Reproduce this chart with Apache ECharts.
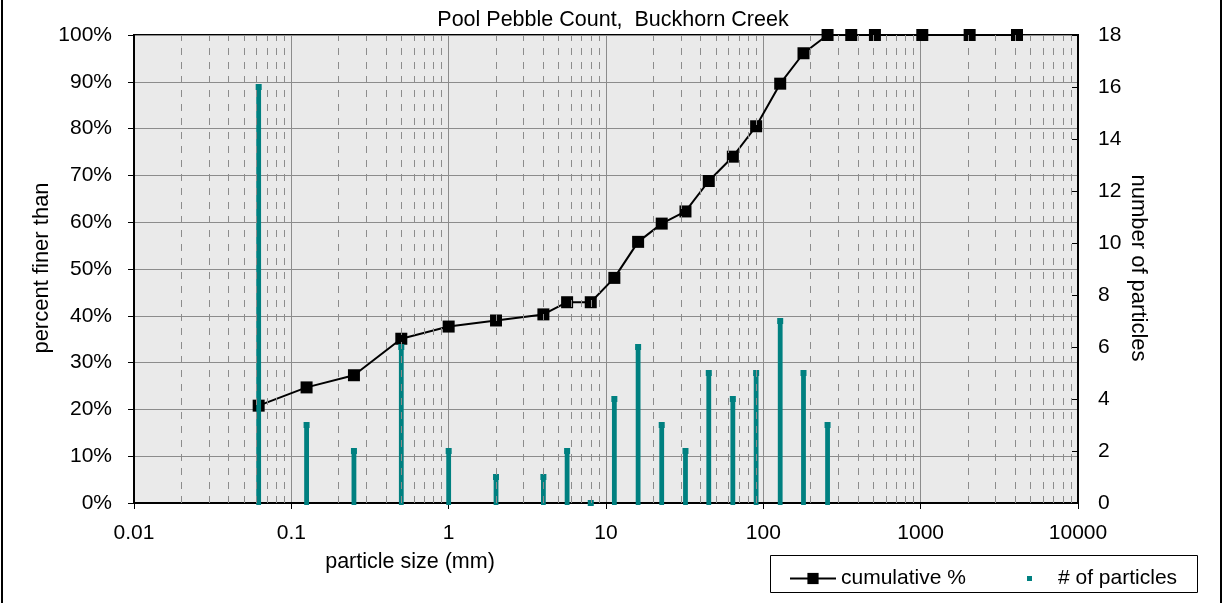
<!DOCTYPE html>
<html>
<head>
<meta charset="utf-8">
<script src="https://cdn.jsdelivr.net/npm/echarts@6/dist/echarts.min.js"></script>
<style>
html,body{margin:0;padding:0;background:#fff;}
#chart{width:1226px;height:603px;}
</style>
</head>
<body>
<div id="chart"></div>
<script>
// ---- data ----
const sieveSizes = [0.062, 0.125, 0.25, 0.5, 1, 2, 4, 5.66, 8, 11.3, 16, 22.6, 32, 45, 64, 90, 128, 180, 256, 362, 512, 1024, 2048, 4096];
const cumulativePct = [20.8, 24.7, 27.3, 35.1, 37.7, 39.0, 40.3, 42.9, 42.9, 48.1, 55.8, 59.7, 62.3, 68.8, 74.0, 80.5, 89.6, 96.1, 100, 100, 100, 100, 100, 100];
const countSizes = [0.062, 0.125, 0.25, 0.5, 1, 2, 4, 5.66, 8, 11.3, 16, 22.6, 32, 45, 64, 90, 128, 180, 256];
const particleCounts = [16, 3, 2, 6, 2, 1, 1, 2, 0, 4, 6, 3, 2, 5, 4, 5, 7, 5, 3];
const xTickLabels = ['0.01', '0.1', '1', '10', '100', '1000', '10000'];
const minorMultipliers = [2, 3, 4, 5, 6, 7, 8, 9];
const decadeStarts = [0.01, 0.1, 1, 10, 100, 1000];

const FONT = '"Liberation Sans", Arial, Helvetica, sans-serif';
const chart = echarts.init(document.getElementById('chart'));

const minorLines = [];
decadeStarts.forEach(d => minorMultipliers.forEach(m => minorLines.push({ xAxis: +(d * m).toPrecision(6) })));

const option = {
  animation: false,
  textStyle: { fontFamily: FONT, color: '#000' },
  title: {
    text: 'Pool Pebble Count,  Buckhorn Creek',
    left: 'center', top: 4,
    textStyle: { fontFamily: FONT, fontSize: 21.5, fontWeight: 'normal', color: '#000' }
  },
  grid: {
    left: 134, right: 148, top: 35, bottom: 100,
    show: true, backgroundColor: '#EAEAEA', borderColor: '#000', borderWidth: 2
  },
  legend: [
    {
      data: ['cumulative %'], left: 784, top: 563,
      itemWidth: 46, itemHeight: 14,
      textStyle: { fontFamily: FONT, fontSize: 21, color: '#000' }
    },
    {
      data: [{ name: '# of particles', icon: 'rect' }], left: 1022, top: 563,
      itemWidth: 5, itemHeight: 5,
      textStyle: { fontFamily: FONT, fontSize: 21, color: '#000', padding: [0, 0, 0, 21] }
    }
  ],
  xAxis: {
    type: 'log', logBase: 10, min: 0.01, max: 10000,
    axisLine: { lineStyle: { color: '#000', width: 2 } },
    axisTick: { show: true, inside: false, length: 6, lineStyle: { color: '#000', width: 1 } },
    axisLabel: {
      margin: 20, fontSize: 21, color: '#000', fontFamily: FONT,
      formatter: v => xTickLabels[Math.round(Math.log10(v)) + 2]
    },
    splitLine: { show: true, lineStyle: { color: '#8c8c8c', width: 1 } }
  },
  yAxis: [
    {
      type: 'value', min: 0, max: 100, interval: 10,
      axisLine: { show: true, lineStyle: { color: '#000', width: 2 } },
      axisTick: { show: true, inside: false, length: 6, lineStyle: { color: '#000' } },
      axisLabel: { margin: 22, fontSize: 21, color: '#000', fontFamily: FONT, formatter: '{value}%' },
      splitLine: { show: true, lineStyle: { color: '#8c8c8c', width: 1 } }
    },
    {
      type: 'value', min: 0, max: 18, interval: 2, position: 'right',
      axisLine: { show: true, lineStyle: { color: '#000', width: 2 } },
      axisTick: { show: true, inside: true, length: 6, lineStyle: { color: '#000' } },
      axisLabel: { margin: 20, fontSize: 21, color: '#000', fontFamily: FONT },
      splitLine: { show: false }
    }
  ],
  series: [
    {
      name: 'minorGrid', type: 'line', data: [], z: 1, silent: true,
      markLine: {
        silent: true, symbol: ['none', 'none'], label: { show: false },
        lineStyle: { color: '#8c8c8c', width: 1, type: [7, 7] },
        emphasis: { disabled: true },
        data: minorLines
      }
    },
    {
      name: 'cumulative %', type: 'line', z: 3, clip: false,
      data: sieveSizes.map((s, i) => [s, cumulativePct[i]]),
      symbol: 'rect', symbolSize: 12,
      lineStyle: { color: '#000', width: 2 },
      itemStyle: { color: '#000' }
    },
    {
      name: '# of particles', type: 'custom', yAxisIndex: 1, z: 4, clip: false,
      itemStyle: { color: '#008080' },
      encode: { x: 0, y: 1 },
      data: countSizes.map((s, i) => [s, particleCounts[i]]),
      renderItem: function (params, api) {
        const x = api.value(0), v = api.value(1);
        const top = api.coord([x, v]);
        const base = api.coord([x, 0]);
        return {
          type: 'group',
          children: [
            { type: 'rect', shape: { x: top[0] - 2.4, y: top[1], width: 4.8, height: base[1] - top[1] + 2 }, style: { fill: '#008080' } },
            { type: 'rect', shape: { x: top[0] - 3, y: top[1] - 3, width: 6, height: 6 }, style: { fill: '#008080' } }
          ]
        };
      }
    }
  ],
  graphic: [
    { type: 'rect', z: 100, silent: true, shape: { x: 2, y: -10, width: 1219, height: 625 }, style: { fill: 'none', stroke: '#000', lineWidth: 2 } },
    { type: 'rect', z: 100, silent: true, shape: { x: 770.5, y: 555.5, width: 427, height: 37 }, style: { fill: 'none', stroke: '#000', lineWidth: 1 } },
    { type: 'text', z: 100, x: 410, y: 562, style: { text: 'particle size (mm)', font: '21.5px ' + FONT, fill: '#000', align: 'center', verticalAlign: 'middle' } },
    { type: 'text', z: 100, x: 42, y: 268, rotation: Math.PI / 2, style: { text: 'percent finer than', font: '22px ' + FONT, fill: '#000', align: 'center', verticalAlign: 'middle' } },
    { type: 'text', z: 100, x: 1138, y: 268, rotation: -Math.PI / 2, style: { text: 'number of particles', font: '22px ' + FONT, fill: '#000', align: 'center', verticalAlign: 'middle' } }
  ]
};
chart.setOption(option);
</script>
</body>
</html>
